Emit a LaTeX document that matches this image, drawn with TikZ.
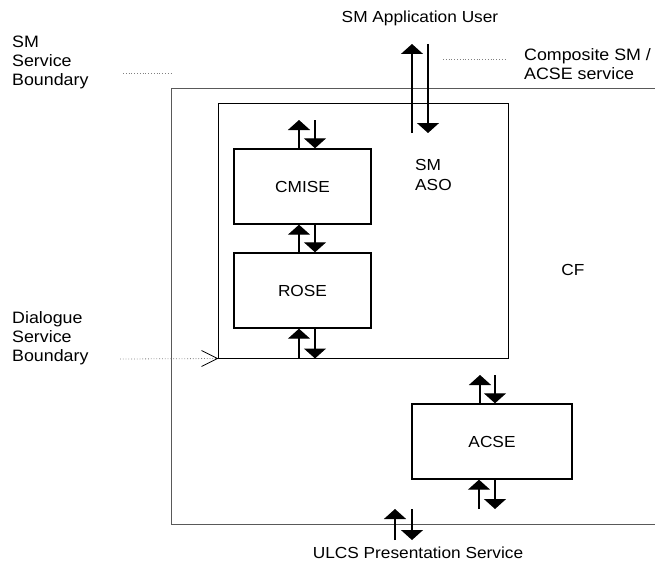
\documentclass[tikz,border=0pt]{standalone}
\usepackage{fontspec}
\setmainfont[FakeStretch=1.08]{Liberation Sans}
\usetikzlibrary{arrows.meta}
\begin{document}
\begin{tikzpicture}[x=1pt,y=-1pt,
  lbl/.style={inner sep=0pt,align=left,font=\fontsize{16.5}{19}\selectfont},
  biglbl/.style={inner sep=0pt,font=\fontsize{16}{20}\selectfont},
  entity/.style={draw,line width=1.4pt,inner sep=0pt,font=\fontsize{16}{20}\selectfont},
  frame/.style={draw,line width=1pt},
  upflow/.style={line width=1.3pt,-{Triangle[width=22pt,length=10pt]}},
  dotline/.style={gray,line width=0.8pt,dotted}]
\useasboundingbox (0,0) rectangle (655,567);

% CF container (open to the right)
\draw[frame,gray!70!black] (655,89) -- (171,89) -- (171,524) -- (655,524);
\node[biglbl] (cf) at (573,270) {CF};

% SM ASO
\node[frame,minimum width=290pt,minimum height=254pt,inner sep=0pt] (aso) at (363,231) {};
\node[biglbl,anchor=north west,align=left] (asolbl) at (415,159) {SM\\ASO};

\node[entity,minimum width=137pt,minimum height=75pt] (cmise) at (302.5,186.5) {CMISE};
\node[entity,minimum width=137pt,minimum height=75pt] (rose) at (302.5,290.5) {ROSE};
\node[entity,minimum width=160pt,minimum height=75pt] (acse) at (492,441.5) {ACSE};

% service access points
\coordinate (cmtop) at (315,120);
\coordinate (actop) at (495,375);
\coordinate (acbot) at (495,509);
\coordinate (ulcsA) at (412,509);
\coordinate (ulcsB) at (412,540);
\coordinate (userA) at (428,44);
\coordinate (userB) at (428,133);

% arrow pairs: up on the left, down on the right
\draw[upflow] ([xshift=-16pt]userB) -- ([xshift=-16pt]userA);
\draw[upflow] (userA) -- (userB);

\draw[upflow] ([xshift=-16pt]cmtop |- cmise.north) -- ([xshift=-16pt]cmtop);
\draw[upflow] (cmtop) -- (cmtop |- cmise.north);

\draw[upflow] ([xshift=-16pt]cmtop |- rose.north) -- ([xshift=-16pt]cmtop |- cmise.south);
\draw[upflow] (cmtop |- cmise.south) -- (cmtop |- rose.north);

\draw[upflow] ([xshift=-16pt]cmtop |- aso.south) -- ([xshift=-16pt]cmtop |- rose.south);
\draw[upflow] (cmtop |- rose.south) -- (cmtop |- aso.south);

\draw[upflow] ([xshift=-15pt]actop |- acse.north) -- ([xshift=-15pt]actop);
\draw[upflow] (actop) -- (actop |- acse.north);

\draw[upflow] ([xshift=-16pt]acbot) -- ([xshift=-16pt]acbot |- acse.south);
\draw[upflow] (acbot |- acse.south) -- (acbot);

\draw[upflow] ([xshift=-17pt]ulcsB) -- ([xshift=-17pt]ulcsA);
\draw[upflow] (ulcsA) -- (ulcsB);

% labels
\node[biglbl] (user) at (420,18) {SM Application User};
\node[biglbl] (ulcs) at (418,553) {ULCS Presentation Service};

\node[lbl,anchor=north west] (smsb) at (12,36) {SM\\Service\\Boundary};
\node[lbl,anchor=north west] (comp) at (524,48) {Composite SM /\\ACSE service};
\node[lbl,anchor=north west] (dsb) at (12,311) {Dialogue\\Service\\Boundary};

% boundary markers
\coordinate (smsbA) at (123,73);
\coordinate (smsbB) at (172,73);
\draw[dotline] (smsbA) -- (smsbB);
\coordinate (compA) at (443,59);
\coordinate (compB) at (507,59);
\draw[dotline] (compA) -- (compB);
\coordinate (dsbA) at (120,359);
\draw[dotline] (dsbA) -- (aso.south west);
\draw[line width=0.8pt] ([xshift=-16pt,yshift=-8pt]aso.south west) -- (aso.south west) -- ([xshift=-16pt,yshift=8pt]aso.south west);
\end{tikzpicture}
\end{document}
